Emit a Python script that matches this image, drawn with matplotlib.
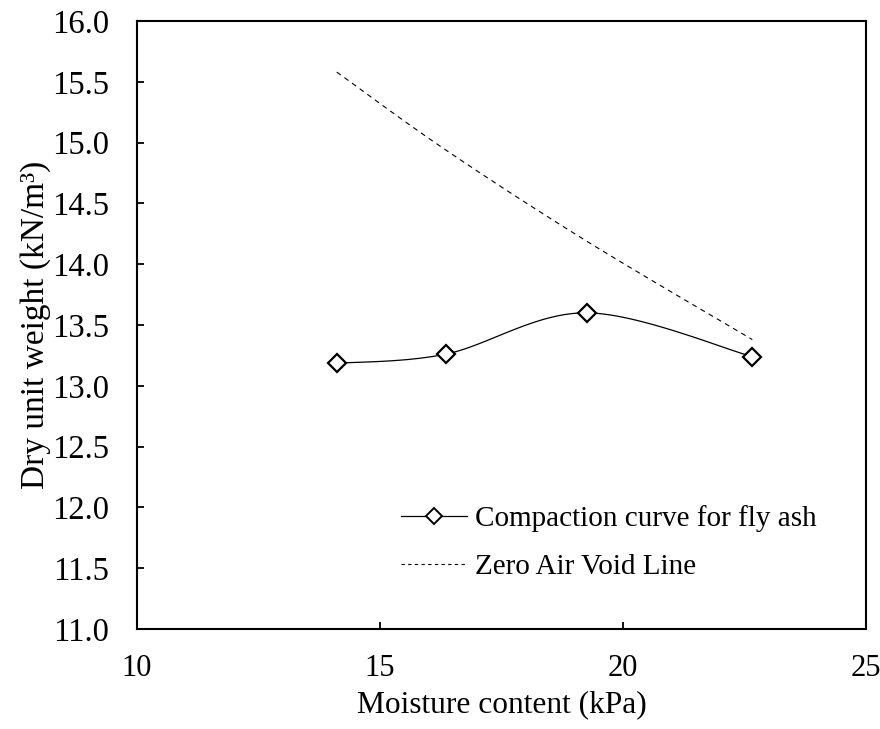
import numpy as np
import matplotlib
matplotlib.use("Agg")
import matplotlib.pyplot as plt

plt.rcParams["font.family"] = ["Liberation Serif", "DejaVu Serif"]

# compaction test results
moisture = [14.11, 16.35, 19.25, 22.66]
dry_unit_weight = [13.185, 13.26, 13.60, 13.24]
# zero air void line at the same moisture contents
zav_weight = [15.58, 14.94, 14.19, 13.38]


def smooth(x, y, n=40):
    """Catmull-Rom style smoothing through the points (like a spreadsheet smoothed line)."""
    p = np.column_stack([x, y]).astype(float)
    pts = np.vstack([p[0], p, p[-1]])
    out = []
    for i in range(1, len(pts) - 2):
        p0, p1, p2, p3 = pts[i - 1], pts[i], pts[i + 1], pts[i + 2]
        c1 = p1 + (p2 - p0) / 6.0
        c2 = p2 - (p3 - p1) / 6.0
        t = np.linspace(0, 1, n)[:, None]
        seg = ((1 - t) ** 3) * p1 + 3 * ((1 - t) ** 2) * t * c1 \
            + 3 * (1 - t) * t ** 2 * c2 + t ** 3 * p2
        out.append(seg if i == 1 else seg[1:])
    seg = np.vstack(out)
    return seg[:, 0], seg[:, 1]


fig = plt.figure(figsize=(8.8, 7.29), dpi=100)
ax = fig.add_axes([0.1557, 0.1372, 0.8284, 0.834])

sx, sy = smooth(moisture, dry_unit_weight)
ax.plot(sx, sy, color="black", lw=0.9)
ax.plot(moisture, dry_unit_weight, ls="none", marker="D", ms=9,
        mfc="white", mec="black", mew=1.6)

zx, zy = smooth(moisture, zav_weight)
ax.plot(zx, zy, color="black", lw=0.8, dashes=(4.5, 4))

# legend proxies
h1, = ax.plot([], [], color="black", lw=0.9, marker="D", ms=8,
              mfc="white", mec="black", mew=1.4)
h2, = ax.plot([], [], color="black", lw=0.8, dashes=(3, 3))
ax.legend([h1, h2], ["Compaction curve for fly ash", "Zero Air Void Line"],
          loc="center left", bbox_to_anchor=(0.362, 0.1424), frameon=False,
          fontsize=21, numpoints=1, handlelength=2.25, handletextpad=0.3,
          borderpad=0, labelspacing=0.75, borderaxespad=0)

ax.set_xlim(10, 25)
ax.set_ylim(11, 16)
ax.set_xticks([10, 15, 20, 25])
ax.set_yticks(np.arange(11, 16.01, 0.5))
ax.yaxis.set_major_formatter(matplotlib.ticker.FormatStrFormatter("%.1f"))
ax.tick_params(direction="in", length=5, width=1.3)
ax.tick_params(axis="y", pad=20, labelsize=23.5)
ax.tick_params(axis="x", pad=18, labelsize=22)
for s in ax.spines.values():
    s.set_linewidth(1.5)

ax.set_xlabel("Moisture content (kPa)", fontsize=22.6, labelpad=5)
ax.set_ylabel("Dry unit weight (kN/m³)", fontsize=24, labelpad=1)

fig.savefig("out.png", dpi=100)
